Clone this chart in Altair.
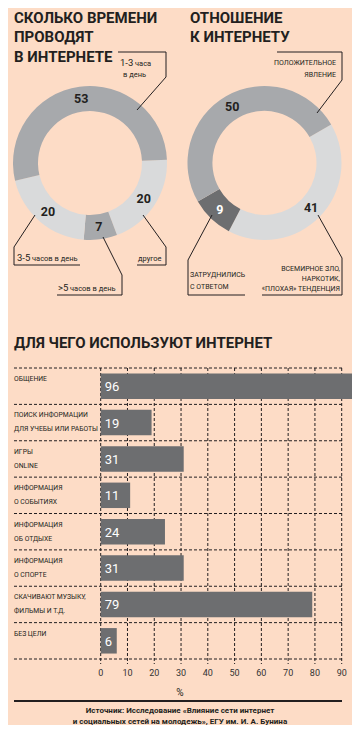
import math
import altair as alt
import pandas as pd

# ---------------- data ----------------
time_labels = ["другое", ">5 часов в день", "3-5 часов в день", "1-3 часа в день"]
time_values = [20, 7, 20, 53]

att_labels = ["всемирное зло", "затруднились с ответом", "положительное явление"]
att_values = [41, 9, 50]

use_labels = [
    "ОБЩЕНИЕ",
    "ПОИСК ИНФОРМАЦИИ\nДЛЯ УЧЕБЫ ИЛИ РАБОТЫ",
    "ИГРЫ\nONLINE",
    "ИНФОРМАЦИЯ\nО СОБЫТИЯХ",
    "ИНФОРМАЦИЯ\nОБ ОТДЫХЕ",
    "ИНФОРМАЦИЯ\nО СПОРТЕ",
    "СКАЧИВАЮТ МУЗЫКУ,\nФИЛЬМЫ И Т.Д.",
    "БЕЗ ЦЕЛИ",
]
use_values = [96, 19, 31, 11, 24, 31, 79, 6]
x_ticks = [0, 10, 20, 30, 40, 50, 60, 70, 80, 90]

# ---------------- style ----------------
FONT = "Roboto"
INK = "#231f20"
BG = "#fddcc6"
LIGHT = "#d9dadb"
MID = "#a7a9ac"
DARK = "#6d6e70"

time_colors = [LIGHT, MID, LIGHT, MID]
time_text_colors = [INK, INK, INK, INK]
att_colors = [LIGHT, DARK, MID]
att_text_colors = [INK, "#ffffff", INK]

ONE = alt.Data(values=[{}])


def donut(labels, values, colors, text_colors, cx, cy, start_deg):
    df = pd.DataFrame({"label": labels, "value": values, "idx": list(range(len(labels)))})
    start = math.radians(start_deg)
    theta = alt.Theta(
        "value:Q", stack=True,
        scale=alt.Scale(domain=[0, 100], range=[start, start + 2 * math.pi]),
    )
    base = alt.Chart(df).encode(theta=theta, order=alt.Order("idx:Q"),
                                x=alt.value(cx), y=alt.value(cy))
    arc = base.mark_arc(innerRadius=52, outerRadius=77).encode(
        color=alt.Color("label:N", scale=alt.Scale(domain=labels, range=colors), legend=None)
    )
    txt = base.mark_text(radius=64.5, font=FONT, fontSize=12.5, fontWeight="bold").encode(
        text="value:Q",
        color=alt.Color("label:N", scale=alt.Scale(domain=labels, range=text_colors), legend=None),
    )
    return [arc, txt]


def text(s, x, y, size=8.0, align="left", weight="normal", color=INK, line_height=None):
    kw = dict(text=s, font=FONT, fontSize=size, align=align, baseline="alphabetic",
              fontWeight=weight, color=color)
    if line_height is not None:
        kw["lineBreak"] = "\n"
        kw["lineHeight"] = line_height
    return alt.Chart(ONE).mark_text(**kw).encode(x=alt.value(x), y=alt.value(y))


def polyline(points, width=1.0, color=INK):
    out = []
    for (x1, y1), (x2, y2) in zip(points[:-1], points[1:]):
        out.append(
            alt.Chart(ONE).mark_rule(color=color, strokeWidth=width).encode(
                x=alt.value(x1), y=alt.value(y1), x2=alt.value(x2), y2=alt.value(y2)
            )
        )
    return out


layers = []

# ---------------- titles ----------------
for i, s in enumerate(["СКОЛЬКО ВРЕМЕНИ", "ПРОВОДЯТ", "В ИНТЕРНЕТЕ"]):
    layers.append(text(s, 6, 14.5 + i * 19.5, size=15, weight="bold"))
for i, s in enumerate(["ОТНОШЕНИЕ", "К ИНТЕРНЕТУ"]):
    layers.append(text(s, 182, 14.5 + i * 19.5, size=15, weight="bold"))

# ---------------- donuts ----------------
layers += donut(time_labels, time_values, time_colors, time_text_colors, 82, 155, 87.5)
layers += donut(att_labels, att_values, att_colors, att_text_colors, 256.5, 155, 60)

# annotations, left donut
layers += polyline([(129, 102), (158, 69), (158, 44), (110, 44)])
layers.append(text("1-3", 112, 58, size=9.5))
layers.append(text("часа", 127, 58, size=7.5))
layers.append(text("в день", 115, 69, size=7.5))

layers += polyline([(27, 207), (6, 239), (6, 257), (72, 257)])
layers.append(text("3-5", 9, 253, size=9.5))
layers.append(text("часов в день", 24, 253, size=7.5))

layers += polyline([(95, 229), (114, 267), (114, 287), (49, 287)])
layers.append(text(">5", 50, 283, size=9.5))
layers.append(text("часов в день", 62, 283, size=7.5))

layers += polyline([(135, 207), (158, 239), (158, 257), (129, 257)])
layers.append(text("другое", 130, 253, size=7.5))

# annotations, right donut
layers += polyline([(309, 105), (334, 72), (334, 44), (269, 44)])
layers.append(text("ПОЛОЖИТЕЛЬНОЕ\nЯВЛЕНИЕ", 328, 57, size=7, align="right", line_height=12))

layers += polyline([(204, 207), (180, 252), (180, 287), (237, 287)])
layers.append(text("ЗАТРУДНИЛИСЬ\nС ОТВЕТОМ", 182, 269, size=7, line_height=11.5))

layers += polyline([(310, 207), (334, 250), (334, 287), (254, 287)])
layers.append(text("ВСЕМИРНОЕ ЗЛО,\nНАРКОТИК,\n«ПЛОХАЯ» ТЕНДЕНЦИЯ", 332, 263, size=7,
                   align="right", line_height=10))

# ---------------- bar chart ----------------
layers.append(text("ДЛЯ ЧЕГО ИСПОЛЬЗУЮТ ИНТЕРНЕТ", 6, 340, size=15, weight="bold"))

xs = alt.Scale(domain=[0, 90], range=[92.7, 333.7], nice=False, zero=True)
ys = alt.Scale(domain=use_labels, range=[360, 651], paddingInner=0, paddingOuter=0)

bars_df = pd.DataFrame({"use": use_labels, "value": use_values})
ticks_df = pd.DataFrame({"t": x_ticks})


def X(f):
    return alt.X(f, scale=xs, axis=None)


def Y(**k):
    return alt.Y("use:N", scale=ys, axis=None, sort=use_labels, **k)


grid_v = alt.Chart(ticks_df).mark_rule(color=INK, strokeWidth=1, strokeDash=[3, 2]).encode(
    x=X("t:Q"), y=alt.value(360), y2=alt.value(656)
)
grid_h = alt.Chart(bars_df).mark_rule(color=INK, strokeWidth=1, strokeDash=[3, 2]).encode(
    y=Y(bandPosition=0), x=alt.value(6), x2=alt.value(334)
)
grid_bottom = alt.Chart(ONE).mark_rule(color=INK, strokeWidth=1, strokeDash=[3, 2]).encode(
    y=alt.value(651), x=alt.value(6), x2=alt.value(334)
)
bars = alt.Chart(bars_df).mark_bar(color=DARK, height={"band": 0.7}).encode(
    x=X("value:Q"), y=Y()
)
bar_txt = alt.Chart(bars_df).mark_text(
    align="left", baseline="middle", dx=4, dy=1, color="white", font=FONT, fontSize=13
).encode(x=alt.X(datum=0, scale=xs, axis=None), y=Y(), text="value:Q")
cat_txt = alt.Chart(bars_df).mark_text(
    align="left", baseline="alphabetic", dy=13, lineBreak="\n", lineHeight=14,
    font=FONT, fontSize=6.8, color=INK
).encode(y=Y(bandPosition=0), x=alt.value(6), text="use:N")
tick_txt = alt.Chart(ticks_df).mark_text(
    font=FONT, fontSize=9, color="#333333", baseline="middle"
).encode(x=X("t:Q"), y=alt.value(665), text="t:Q")

layers += [grid_v, grid_h, grid_bottom, bars, bar_txt, cat_txt, tick_txt]
layers.append(text("%", 172, 688, size=10, align="center"))

# footer
layers += polyline([(6, 693), (334, 693)], width=2)
layers.append(text("Источник: Исследование «Влияние сети интернет", 172, 705, size=8,
                   align="center", weight="bold"))
layers.append(text("и социальных сетей на молодежь», ЕГУ им. И. А. Бунина", 172, 715.5,
                   size=8, align="center", weight="bold"))

chart = (
    alt.layer(*layers)
    .resolve_scale(theta="independent", color="independent")
    .properties(width=344, height=717, background=BG, padding=0,
                autosize=alt.AutoSizeParams(type="none"))
    .configure_view(strokeWidth=0)
)

chart.save("out.html", embed_options={"renderer": "svg", "actions": False})
